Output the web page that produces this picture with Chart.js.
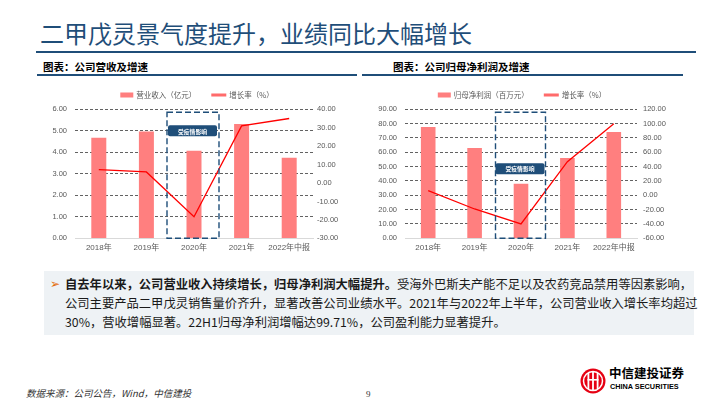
<!DOCTYPE html>
<html><head><meta charset="utf-8">
<script src="https://cdn.jsdelivr.net/npm/chart.js@4.4.1/dist/chart.umd.min.js"></script>
<style>
body{margin:0;background:#fff;}
#page{position:relative;width:720px;height:405px;background:#fff;overflow:hidden;font-family:'Noto Sans CJK SC',sans-serif;}
.abs{position:absolute;white-space:nowrap;}
canvas{position:absolute;}
</style></head><body><div id="page">
<div class="abs" style="left:40px;top:19px;font-size:24px;line-height:28px;color:#1F4E79;">二甲戊灵景气度提升，业绩同比大幅增长</div>
<div class="abs" style="left:36px;top:51px;width:660px;height:2px;background:#1F4E79"></div>

<div class="abs" style="left:43px;top:60px;font-size:10.5px;line-height:14px;font-weight:700;color:#000;">图表：公司营收及增速</div>
<div class="abs" style="left:393px;top:60px;font-size:10.5px;line-height:14px;font-weight:700;color:#000;">图表：公司归母净利润及增速</div>
<div class="abs" style="left:37px;top:74px;width:320px;height:1.5px;background:#1F4E79"></div>
<div class="abs" style="left:362px;top:74px;width:321px;height:1.5px;background:#1F4E79"></div>

<canvas id="c1" width="330" height="176" style="left:30px;top:85px"></canvas>
<canvas id="c2" width="330" height="176" style="left:360px;top:85px"></canvas>

<div class="abs" style="left:44px;top:271px;width:650px;height:64px;background:#EEF2F5"></div>
<div class="abs" style="left:50px;top:274.5px;font-size:12px;line-height:19px;color:#E46C0A;font-family:'DejaVu Sans';">➢</div>
<div class="abs" style="left:65px;top:274.5px;font-size:12.3px;line-height:19px;color:#1a1a1a;"><b>自去年以来，公司营业收入持续增长，归母净利润大幅提升。</b>受海外巴斯夫产能不足以及农药竞品禁用等因素影响，</div>
<div class="abs" style="left:65px;top:293.5px;font-size:12.3px;line-height:19px;color:#1a1a1a;">公司主要产品二甲戊灵销售量价齐升，显著改善公司业绩水平。2021年与2022年上半年，公司营业收入增长率均超过</div>
<div class="abs" style="left:65px;top:312.5px;font-size:12.3px;line-height:19px;color:#1a1a1a;">30%，营收增幅显著。22H1归母净利润增幅达99.71%，公司盈利能力显著提升。</div>

<div class="abs" style="left:26px;top:386px;font-size:9.5px;line-height:14px;font-style:italic;color:#333;">数据来源：公司公告，Wind，中信建投</div>
<div class="abs" style="left:366px;top:388px;font-size:9px;line-height:12px;color:#333;font-family:'Liberation Serif';">9</div>

<svg class="abs" style="left:580px;top:368px" width="26" height="26" viewBox="0 0 26 26">
<circle cx="13" cy="13" r="12.5" fill="#E60012"/>
<circle cx="13" cy="13" r="9.5" fill="none" stroke="#fff" stroke-width="1.5"/>
<rect x="7.5" y="5" width="1.8" height="16" fill="#fff"/>
<rect x="12.1" y="3.5" width="1.8" height="19" fill="#fff"/>
<rect x="16.7" y="5" width="1.8" height="16" fill="#fff"/>
<rect x="7.5" y="11" width="11" height="1.6" fill="#fff"/>
</svg>
<div class="abs" style="left:609px;top:365px;font-size:12.5px;line-height:16px;font-weight:700;color:#000;">中信建投证券</div>
<div class="abs" style="left:610px;top:382px;font-size:7.3px;line-height:10px;font-weight:700;color:#000;font-family:'Liberation Sans';">CHINA SECURITIES</div>
</div>
<script>
// ---- data ----
const categories = ['2018年', '2019年', '2020年', '2021年', '2022年中报'];
const revenue = [4.68, 4.97, 4.07, 5.32, 3.75];          // 营业收入（亿元）
const revenueGrowth = [7.3, 6.0, -18.3, 31.0, 35.0];     // 增长率（%）
const netProfit = [77.7, 63.0, 38.1, 56.0, 74.2];        // 归母净利润（百万元）
const profitGrowth = [6.4, -19.1, -39.9, 46.9, 99.71];   // 增长率（%）
const revenueAxis = [0, 6, 1];
const revenueGrowthAxis = [-30, 40, 10];
const profitAxis = [0, 90, 10];
const profitGrowthAxis = [-60, 120, 20];
const revenueLabels = ['营业收入（亿元）', '增长率（%）'];
const profitLabels = ['归母净利润（百万元）', '增长率（%）'];
const noteText = '受疫情影响';

const FONT = "'Liberation Sans','Noto Sans CJK SC',sans-serif";
const CJK = "'Noto Sans CJK SC','Liberation Sans',sans-serif";

const overlay = {
  id: 'overlay',
  afterDatasetsDraw(chart, args, o) {
    const {ctx, chartArea, scales} = chart;
    const x = scales.x, y = scales.y;
    const cx = x.getPixelForValue(o.boxIndex) + o.boxShift;
    ctx.save();
    ctx.setLineDash([6, 3]);
    ctx.strokeStyle = '#1F4E79';
    ctx.lineWidth = 1.4;
    ctx.strokeRect(cx - o.boxHalf, chartArea.top + 3, 2 * o.boxHalf, chartArea.bottom - chartArea.top - 3);
    ctx.setLineDash([]);
    const ly = y.getPixelForValue(o.labelValue);
    const lw = 49, lh = 11, lx = cx - lw / 2 - 0.5;
    ctx.fillStyle = '#1F4E79';
    ctx.beginPath();
    if (ctx.roundRect) ctx.roundRect(lx, ly - lh / 2, lw, lh, 2); else ctx.rect(lx, ly - lh / 2, lw, lh);
    ctx.fill();
    ctx.fillStyle = '#fff';
    ctx.font = 'bold 5.8px ' + CJK;
    ctx.textAlign = 'center';
    ctx.textBaseline = 'middle';
    ctx.fillText(o.note, lx + lw / 2, ly + 0.5);
    ctx.restore();
  },
  afterDraw(chart, args, o) {
    const ctx = chart.ctx;
    ctx.save();
    ctx.font = '7.5px ' + CJK;
    const w1 = ctx.measureText(o.labels[0]).width;
    const w2 = ctx.measureText(o.labels[1]).width;
    const total = 13 + 3 + w1 + 15 + 15 + 3 + w2;
    let sx = o.legendCenter - total / 2;
    const cy = o.legendY;
    ctx.fillStyle = '#FF7F7F';
    ctx.fillRect(sx, cy - 2.5, 13, 5);
    ctx.fillStyle = '#595959';
    ctx.textBaseline = 'middle';
    ctx.textAlign = 'left';
    ctx.fillText(o.labels[0], sx + 16, cy);
    sx += 16 + w1 + 15;
    ctx.fillStyle = '#FF6B6B';
    ctx.fillRect(sx, cy - 1.5, 15, 3);
    ctx.fillStyle = '#595959';
    ctx.fillText(o.labels[1], sx + 18, cy);
    ctx.restore();
  }
};

function makeChart(id, bars, line, barAxis, lineAxis, labels, cfg) {
  return new Chart(document.getElementById(id), {
    type: 'bar',
    data: {
      labels: categories,
      datasets: [
        {type: 'line', label: labels[1], data: line, yAxisID: 'y1', borderColor: '#FF0000', borderWidth: 1.3,
         pointRadius: 0, tension: 0, order: 0},
        {type: 'bar', label: labels[0], data: bars, yAxisID: 'y', backgroundColor: '#FF7F7F',
         barPercentage: 0.315, categoryPercentage: 1, order: 1}
      ]
    },
    plugins: [overlay],
    options: {
      responsive: false, animation: false,
      layout: {padding: {top: 24.3, bottom: 2.7, left: 0, right: 0}},
      plugins: {
        legend: {display: false}, tooltip: {enabled: false},
        overlay: {boxIndex: 2, boxShift: cfg.boxShift, boxHalf: cfg.boxHalf, labelValue: cfg.labelValue, note: noteText,
                  labels: labels, legendCenter: cfg.legendCenter, legendY: 10}
      },
      scales: {
        x: {
          grid: {display: false, drawTicks: false},
          border: {display: true, color: '#D9D9D9', width: 1},
          ticks: {font: {size: 8, family: FONT}, color: '#595959', padding: 5, maxRotation: 0, autoSkip: false},
          afterFit(s) { s.height = 20; s.paddingLeft = 0; s.paddingRight = 0; }
        },
        y: {
          position: 'left', min: barAxis[0], max: barAxis[1],
          ticks: {stepSize: barAxis[2], callback: v => Number(v).toFixed(2), font: {size: 7.5, family: FONT}, color: '#595959', padding: 8},
          grid: {drawTicks: false, lineWidth: 0.8, color: c => (c.tick && c.tick.value === barAxis[0]) ? 'rgba(0,0,0,0)' : '#3a3a3a'},
          border: {display: false, dash: [3, 2]},
          afterFit(s) { s.width = 45; s.paddingTop = 0; s.paddingBottom = 0; }
        },
        y1: {
          position: 'right', min: lineAxis[0], max: lineAxis[1],
          ticks: {stepSize: lineAxis[2], callback: v => Number(v).toFixed(2), font: {size: 7.5, family: FONT}, color: '#595959', padding: cfg.rightPad},
          grid: {display: false, drawTicks: false},
          border: {display: false},
          afterFit(s) { s.width = cfg.rightWidth; s.paddingTop = 0; s.paddingBottom = 0; }
        }
      }
    }
  });
}

makeChart('c1', revenue, revenueGrowth, revenueAxis, revenueGrowthAxis, revenueLabels,
  {boxShift: -1, boxHalf: 26, labelValue: 5.0, legendCenter: 167, rightWidth: 47, rightPad: 4});
makeChart('c2', netProfit, profitGrowth, profitAxis, profitGrowthAxis, profitLabels,
  {boxShift: -0.5, boxHalf: 25, labelValue: 48.5, legendCenter: 162, rightWidth: 53, rightPad: 6});
</script>
</body></html>
